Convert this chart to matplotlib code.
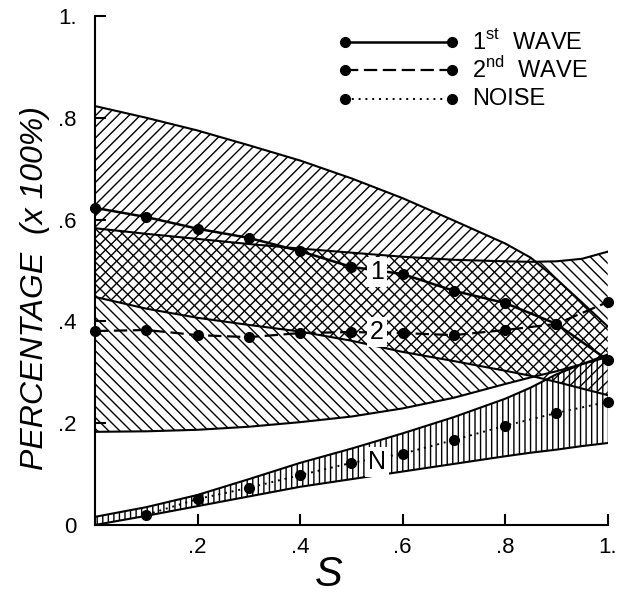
import matplotlib
matplotlib.use("Agg")
import matplotlib.pyplot as plt

# ── Style ──────────────────────────────────────────────────────────────────
plt.rcParams.update({
    "font.family": "Liberation Sans",
    "mathtext.fontset": "custom",
    "mathtext.rm": "Liberation Sans",
    "hatch.linewidth": 1.0,
    "hatch.color": "black",
})

# ── Data ───────────────────────────────────────────────────────────────────
s = [0.0, 0.1, 0.2, 0.3, 0.4, 0.5, 0.6, 0.7, 0.8, 0.9, 1.0]
first_wave = [0.623, 0.605, 0.582, 0.564, 0.538, 0.507, 0.493, 0.460, 0.436, 0.395, 0.324]
second_wave = [0.381, 0.383, 0.373, 0.369, 0.377, 0.379, 0.377, 0.373, 0.383, 0.395, 0.438]

noise_s = [0.1, 0.2, 0.3, 0.4, 0.5, 0.6, 0.7, 0.8, 0.9, 1.0]
noise = [0.020, 0.051, 0.073, 0.098, 0.122, 0.140, 0.167, 0.195, 0.220, 0.242]

# band limits
band_s = [0.0, 0.1, 0.2, 0.3, 0.4, 0.5, 0.6, 0.7, 0.8, 0.85, 0.9, 0.95, 1.0]
first_hi = [0.823, 0.800, 0.775, 0.746, 0.716, 0.681, 0.642, 0.598, 0.553, 0.525, 0.483, 0.437, 0.390]
first_lo = [0.448, 0.425, 0.407, 0.393, 0.380, 0.362, 0.340, 0.322, 0.303, 0.293, 0.281, 0.268, 0.255]
second_hi = [0.583, 0.572, 0.562, 0.552, 0.543, 0.535, 0.527, 0.521, 0.518, 0.517, 0.518, 0.523, 0.537]
second_lo = [0.183, 0.184, 0.187, 0.193, 0.202, 0.213, 0.229, 0.250, 0.277, 0.290, 0.302, 0.316, 0.330]
noise_hi = [0.016, 0.035, 0.059, 0.090, 0.122, 0.150, 0.180, 0.212, 0.248, 0.270, 0.296, 0.316, 0.335]
noise_lo = [0.000, 0.018, 0.037, 0.056, 0.075, 0.090, 0.105, 0.120, 0.135, 0.142, 0.148, 0.155, 0.161]

x_ticks = [0.2, 0.4, 0.6, 0.8, 1.0]
x_labels = [".2", ".4", ".6", ".8", "1."]
y_ticks = [0.0, 0.2, 0.4, 0.6, 0.8, 1.0]
y_labels = ["0", ".2", ".4", ".6", ".8", "1."]

legend_labels = ["1$^{\\mathrm{st}}$  WAVE", "2$^{\\mathrm{nd}}$  WAVE", "NOISE"]

# ── Figure ─────────────────────────────────────────────────────────────────
fig = plt.figure(figsize=(6.17, 6.03), dpi=100)
ax = fig.add_axes([0.154, 0.1294, 0.831, 0.8441])
ax.set_xlim(0, 1)
ax.set_ylim(0, 1)

# hatched bands
ax.fill_between(band_s, first_lo, first_hi, facecolor="none",
                edgecolor="black", hatch="///", linewidth=0)
ax.fill_between(band_s, second_lo, second_hi, facecolor="none",
                edgecolor="black", hatch="\\\\\\", linewidth=0)
ax.fill_between(band_s, noise_lo, noise_hi, facecolor="none",
                edgecolor="black", hatch="|||", linewidth=0)
for edge in (first_hi, first_lo, second_hi, second_lo, noise_hi, noise_lo):
    ax.plot(band_s, edge, color="black", lw=1.5)

# wave curves
styles = ["-", (0, (6, 2.5)), (0, (1, 2.5))]
widths = [1.8, 1.6, 1.4]
mk = dict(marker="o", markersize=7, color="black", clip_on=False, zorder=5)
ax.plot(s, first_wave, linestyle=styles[0], lw=widths[0], **mk)
ax.plot(s, second_wave, linestyle=styles[1], lw=widths[1], **mk)
ax.plot(noise_s, noise, linestyle=styles[2], lw=widths[2], **mk)

# curve tags
box = dict(facecolor="white", edgecolor="none", pad=2)
for tag, ty in (("1", 0.497), ("2", 0.379), ("N", 0.124)):
    ax.text(0.55, ty, tag, fontsize=18, ha="center", va="center",
            bbox=box, zorder=7)

# hand-made key in the upper right
for i, (lab, ls, lw) in enumerate(zip(legend_labels, styles, widths)):
    ky = 0.949 - i * 0.056
    ax.plot([0.487, 0.696], [ky, ky], linestyle=ls, lw=lw,
            transform=ax.transAxes, **mk)
    ax.text(0.735, ky, lab, fontsize=17, ha="left", va="center",
            transform=ax.transAxes)

# axes
for side in ("top", "right"):
    ax.spines[side].set_visible(False)
ax.spines["left"].set_linewidth(1.5)
ax.spines["bottom"].set_linewidth(1.5)
ax.set_xticks(x_ticks)
ax.set_xticklabels(x_labels)
ax.set_yticks(y_ticks)
ax.set_yticklabels(y_labels)
ax.tick_params(axis="both", direction="in", length=8, width=1.5,
               labelsize=16)
ax.tick_params(axis="x", pad=9)
ax.tick_params(axis="y", pad=13)

fig.text(0.057, 0.522, "PERCENTAGE  (x 100%)", rotation=90, style="italic",
         fontsize=23, ha="center", va="center")
fig.text(0.532, 0.047, "S", style="italic", fontsize=30,
         ha="center", va="center")

fig.savefig("out.png", dpi=100)
